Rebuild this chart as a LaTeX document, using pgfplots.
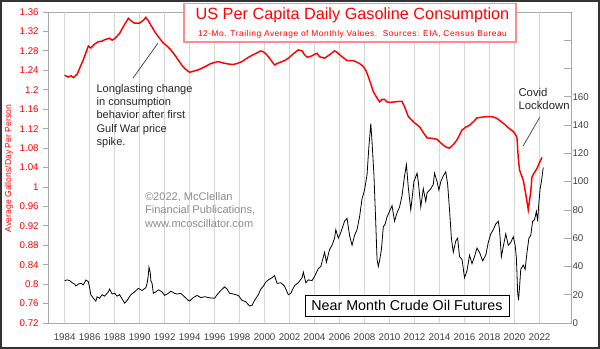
\documentclass[border=0pt]{standalone}
\usepackage{fontspec}
\setmainfont{Liberation Sans}
\usepackage{pgfplots}
\pgfplotsset{compat=1.18}
\definecolor{axgray}{HTML}{A8A8A8}
\definecolor{gridgray}{HTML}{D6D6D6}
\definecolor{boxred}{HTML}{FF8C8C}
\definecolor{txtgray}{HTML}{8C8C8C}
\definecolor{lblgray}{HTML}{404040}
\pgfplotsset{
  every tick label/.append style={font=\fontsize{7.3}{8}\selectfont},
  /pgf/number format/assume math mode=true,
}
\begin{document}
\begin{tikzpicture}
% ---------- gasoline (left axis) ----------
\begin{axis}[
  scale only axis, width=392.25pt, height=233.25pt,
  xmin=1982.67, xmax=2024.52,
  ymin=0.72, ymax=1.36,
  axis line style={axgray},
  xtick={1984,1986,...,2022},
  xticklabel style={lblgray, /pgf/number format/1000 sep={}},
  xticklabel shift=4.2pt,
  ytick={0.72,0.76,0.8,0.84,0.88,0.92,0.96,1,1.04,1.08,1.12,1.16,1.2,1.24,1.28,1.32,1.36},
  tick pos=left,
  y tick style={axgray, line width=0.6pt},
  x tick style={gridgray, line width=0.6pt},
  ytick align=outside,
  xtick align=inside,
  major tick length=3.5pt,
  yticklabel style={red, /pgf/number format/fixed, /pgf/number format/precision=2},
  clip=false,
]
% vertical grid lines at the x ticks
\pgfplotsinvokeforeach{1984,1986,1988,1990,1992,1994,1996,1998,2000,2002,2004,2006,2008,2010,2012,2014,2016,2018,2020,2022}{
  \draw[gridgray, line width=0.6pt] (axis cs:#1,0.72) -- (axis cs:#1,1.36);
}
\addplot[red, line width=1.1pt] coordinates {
(1984.0,1.230) (1984.3,1.226) (1984.5,1.229) (1984.7,1.225) (1985.0,1.232)
(1985.2,1.244) (1985.5,1.262) (1985.9,1.290) (1986.1,1.286) (1986.4,1.294)
(1986.7,1.299) (1987.0,1.300) (1987.2,1.303) (1987.6,1.306) (1987.8,1.302)
(1988.0,1.305) (1988.4,1.316) (1988.7,1.330) (1989.1,1.347) (1989.3,1.342)
(1989.6,1.337) (1990.0,1.337) (1990.3,1.343) (1990.5,1.349) (1990.7,1.342)
(1990.9,1.333) (1991.2,1.320) (1991.5,1.309) (1991.9,1.296) (1992.2,1.290)
(1992.5,1.282) (1992.8,1.272) (1993.1,1.261) (1993.4,1.250) (1993.6,1.244)
(1994.0,1.236) (1994.3,1.238) (1994.7,1.241) (1995.2,1.247) (1995.7,1.254)
(1996.0,1.256) (1996.3,1.258) (1996.7,1.255) (1997.1,1.253) (1997.5,1.252)
(1997.8,1.254) (1998.2,1.258) (1998.6,1.265) (1999.0,1.271) (1999.4,1.276)
(1999.7,1.280) (1999.9,1.278) (2000.1,1.274) (2000.3,1.268) (2000.6,1.258)
(2000.8,1.251) (2001.0,1.254) (2001.2,1.256) (2001.6,1.260) (2001.9,1.265)
(2002.3,1.274) (2002.7,1.282) (2003.0,1.280) (2003.2,1.272) (2003.4,1.267)
(2003.6,1.268) (2003.8,1.270) (2004.0,1.273) (2004.2,1.275) (2004.4,1.268)
(2004.8,1.265) (2005.2,1.272) (2005.6,1.280) (2005.8,1.277) (2006.0,1.272)
(2006.3,1.266) (2006.6,1.260) (2007.0,1.260) (2007.2,1.259) (2007.6,1.254)
(2007.9,1.248) (2008.1,1.240) (2008.3,1.227) (2008.5,1.212) (2008.7,1.196)
(2009.0,1.183) (2009.2,1.175) (2009.4,1.180) (2009.6,1.180) (2009.8,1.175)
(2010.0,1.174) (2010.4,1.175) (2010.8,1.176) (2011.0,1.176) (2011.2,1.165)
(2011.5,1.145) (2011.9,1.134) (2012.4,1.124) (2012.7,1.112) (2013.0,1.101)
(2013.4,1.100) (2013.8,1.098) (2014.0,1.093) (2014.3,1.086) (2014.6,1.081)
(2014.8,1.080) (2015.1,1.087) (2015.4,1.097) (2015.8,1.117) (2016.1,1.123)
(2016.4,1.127) (2016.7,1.134) (2017.0,1.142) (2017.5,1.144) (2018.0,1.145)
(2018.3,1.144) (2018.6,1.141) (2018.9,1.135) (2019.2,1.129) (2019.5,1.122)
(2019.9,1.114) (2020.1,1.107) (2020.2,1.100) (2020.3,1.060) (2020.4,1.035)
(2020.7,1.014) (2020.9,0.985) (2021.1,0.953) (2021.3,0.990) (2021.4,1.021)
(2021.6,1.030) (2021.8,1.038) (2022.0,1.050) (2022.2,1.061)
};
% y label
\node[rotate=90, red, font=\fontsize{6.5}{7}\selectfont]
  at ([xshift=-29.25pt]rel axis cs:0,0.4968) {Average Gallons/Day Per Person};
% annotation lines
\draw[black!80, line width=0.5pt] (axis cs:1989.46,1.2236) -- (axis cs:1991.46,1.2956);
\draw[black!80, line width=0.5pt] (axis cs:2020.69,1.0843) -- (axis cs:2022.02,1.1433);
\end{axis}
% ---------- crude oil (right axis) ----------
\begin{axis}[
  scale only axis, width=392.25pt, height=233.25pt,
  xmin=1982.67, xmax=2024.52,
  ymin=0, ymax=220,
  axis x line=none,
  axis y line*=right,
  axis line style={axgray},
  ytick={0,20,40,60,80,100,120,140,160,180,200,220},
  yticklabels={0,20,40,60,80,100,120,140,160,{},{},{}},
  y tick style={axgray, line width=0.6pt},
  ytick align=inside,
  major tick length=5.5pt,
  yticklabel style={lblgray},
  yticklabel shift=-2.4pt,
  clip=false,
]
\addplot[black, line width=0.6pt] coordinates {
(1984.0,29.9) (1984.2,30.5) (1984.4,30.0) (1984.6,28.5) (1984.8,27.5) (1984.9,26.2)
(1985.1,27.5) (1985.3,28.1) (1985.5,27.0) (1985.7,30.4) (1985.9,29.2) (1986.0,25.0)
(1986.1,20.0) (1986.3,17.5) (1986.5,15.5) (1986.6,18.5) (1986.8,17.5) (1987.0,20.0)
(1987.2,19.0) (1987.5,22.0) (1987.6,24.0) (1987.8,20.5) (1988.0,21.0) (1988.2,19.0)
(1988.4,20.0) (1988.6,17.0) (1988.8,14.0) (1989.0,16.0) (1989.3,20.0) (1989.6,22.0)
(1989.9,24.5) (1990.2,23.0) (1990.5,25.0) (1990.6,28.0) (1990.7,34.0) (1990.75,39.5)
(1990.85,36.0) (1990.9,30.0) (1991.0,28.0) (1991.1,21.0) (1991.3,22.0) (1991.5,23.5)
(1991.8,22.0) (1992.0,19.5) (1992.3,21.0) (1992.5,22.5) (1992.8,21.0) (1993.0,20.5)
(1993.3,21.0) (1993.6,18.5) (1993.9,16.0) (1994.0,15.5) (1994.3,18.0) (1994.6,19.5)
(1994.9,18.0) (1995.2,18.6) (1995.6,17.8) (1996.0,17.5) (1996.2,20.0) (1996.5,23.0)
(1996.8,25.5) (1997.0,24.0) (1997.2,21.0) (1997.5,20.5) (1997.9,19.5) (1998.2,16.0)
(1998.5,15.0) (1998.8,12.0) (1999.0,12.5) (1999.2,16.0) (1999.5,20.0) (1999.7,24.0)
(1999.9,26.0) (2000.1,29.0) (2000.3,30.5) (2000.6,32.0) (2000.8,33.5) (2001.0,28.0)
(2001.3,28.5) (2001.6,26.0) (2001.9,20.0) (2002.1,21.0) (2002.4,26.5) (2002.7,28.5)
(2003.0,32.0) (2003.1,36.0) (2003.3,28.5) (2003.5,30.5) (2003.8,30.0) (2004.0,33.0)
(2004.3,38.5) (2004.5,40.0) (2004.8,50.0) (2004.95,43.0) (2005.2,52.0) (2005.4,55.0)
(2005.6,60.0) (2005.7,66.0) (2005.9,60.0) (2006.1,64.0) (2006.4,72.0) (2006.6,74.0)
(2006.8,62.0) (2007.0,55.0) (2007.2,62.0) (2007.4,66.0) (2007.6,75.0) (2007.8,88.0)
(2008.0,94.0) (2008.2,105.0) (2008.35,125.0) (2008.5,141.0) (2008.6,128.0) (2008.75,105.0)
(2008.9,70.0) (2009.0,45.0) (2009.1,40.0) (2009.2,44.0) (2009.35,52.0) (2009.5,68.0)
(2009.65,70.0) (2009.8,75.0) (2010.0,79.0) (2010.2,83.0) (2010.4,72.0) (2010.6,78.0)
(2010.8,82.0) (2011.0,90.0) (2011.2,104.0) (2011.35,112.0) (2011.5,96.0) (2011.7,80.0)
(2011.8,88.0) (2011.95,100.0) (2012.2,106.0) (2012.3,100.0) (2012.5,82.0) (2012.7,95.0)
(2012.9,86.0) (2013.0,92.0) (2013.3,95.0) (2013.5,98.0) (2013.6,106.0) (2013.8,100.0)
(2013.95,94.0) (2014.1,100.0) (2014.3,104.0) (2014.5,107.0) (2014.65,98.0) (2014.8,80.0)
(2014.95,60.0) (2015.1,50.0) (2015.3,58.0) (2015.45,60.0) (2015.6,47.0) (2015.8,45.0)
(2016.0,32.0) (2016.2,37.0) (2016.4,48.0) (2016.6,42.0) (2016.8,47.0) (2017.0,53.0)
(2017.2,50.0) (2017.45,44.0) (2017.7,48.0) (2017.9,57.0) (2018.1,63.0) (2018.3,66.0)
(2018.5,70.0) (2018.7,72.0) (2018.8,66.0) (2018.95,47.0) (2019.1,54.0) (2019.3,63.0)
(2019.5,55.0) (2019.7,57.0) (2019.9,61.0) (2020.05,55.0) (2020.15,46.0) (2020.25,22.0)
(2020.32,16.0) (2020.4,25.0) (2020.5,38.0) (2020.7,41.0) (2020.85,38.0) (2021.0,50.0)
(2021.15,60.0) (2021.3,62.0) (2021.45,72.0) (2021.6,73.0) (2021.75,79.0) (2021.85,72.0)
(2021.95,85.0) (2022.05,95.0) (2022.15,100.0) (2022.3,110.0)
};
% title box
\node[draw=boxred, line width=1pt, fill=white, minimum width=249pt, minimum height=29pt, inner sep=0pt]
  at (rel axis cs:0.5774,0.9656) {};
\node[anchor=base, red, font=\fontsize{12.2}{14}\selectfont, inner sep=0pt]
  at (rel axis cs:0.5822,0.9743) {US Per Capita Daily Gasoline Consumption};
\node[anchor=base, red, font=\fontsize{6.3}{7}\selectfont\addfontfeatures{LetterSpace=6}, inner sep=0pt]
  at (rel axis cs:0.5822,0.9196) {12-Mo. Trailing Average of Monthly Values.\ \ Sources: EIA, Census Bureau};
% annotations
\node[anchor=north west, align=left, inner sep=0pt, font=\fontsize{8.3}{10}\selectfont, black!85]
  at (rel axis cs:0.0924,0.7685) {Longlasting change\\in consumption\\behavior after first\\Gulf War price\\spike.};
\node[anchor=north west, align=left, inner sep=0pt, font=\fontsize{8.3}{10}\selectfont, txtgray]
  at (rel axis cs:0.1851,0.4203) {\textcopyright2022, McClellan\\Financial Publications,\\www.mcoscillator.com};
\node[anchor=north west, align=left, inner sep=0pt, font=\fontsize{8.5}{9.2}\selectfont, black!85]
  at (rel axis cs:0.8992,0.7547) {Covid\\Lockdown};
\node[draw=black, line width=0.7pt, fill=white, minimum width=153pt, minimum height=15.75pt, inner sep=0pt,
  font=\fontsize{10.7}{12}\selectfont]
  at (rel axis cs:0.6864,0.0563) {Near Month Crude Oil Futures};
% outer frame
\draw[black!80, line width=1.2pt]
  ([shift={(0.6pt,0.6pt)}]rel axis cs:-0.09178,-0.0836) rectangle
  ([shift={(-0.6pt,-0.6pt)}]rel axis cs:1.05545,1.03859);
\end{axis}
\end{tikzpicture}
\end{document}
